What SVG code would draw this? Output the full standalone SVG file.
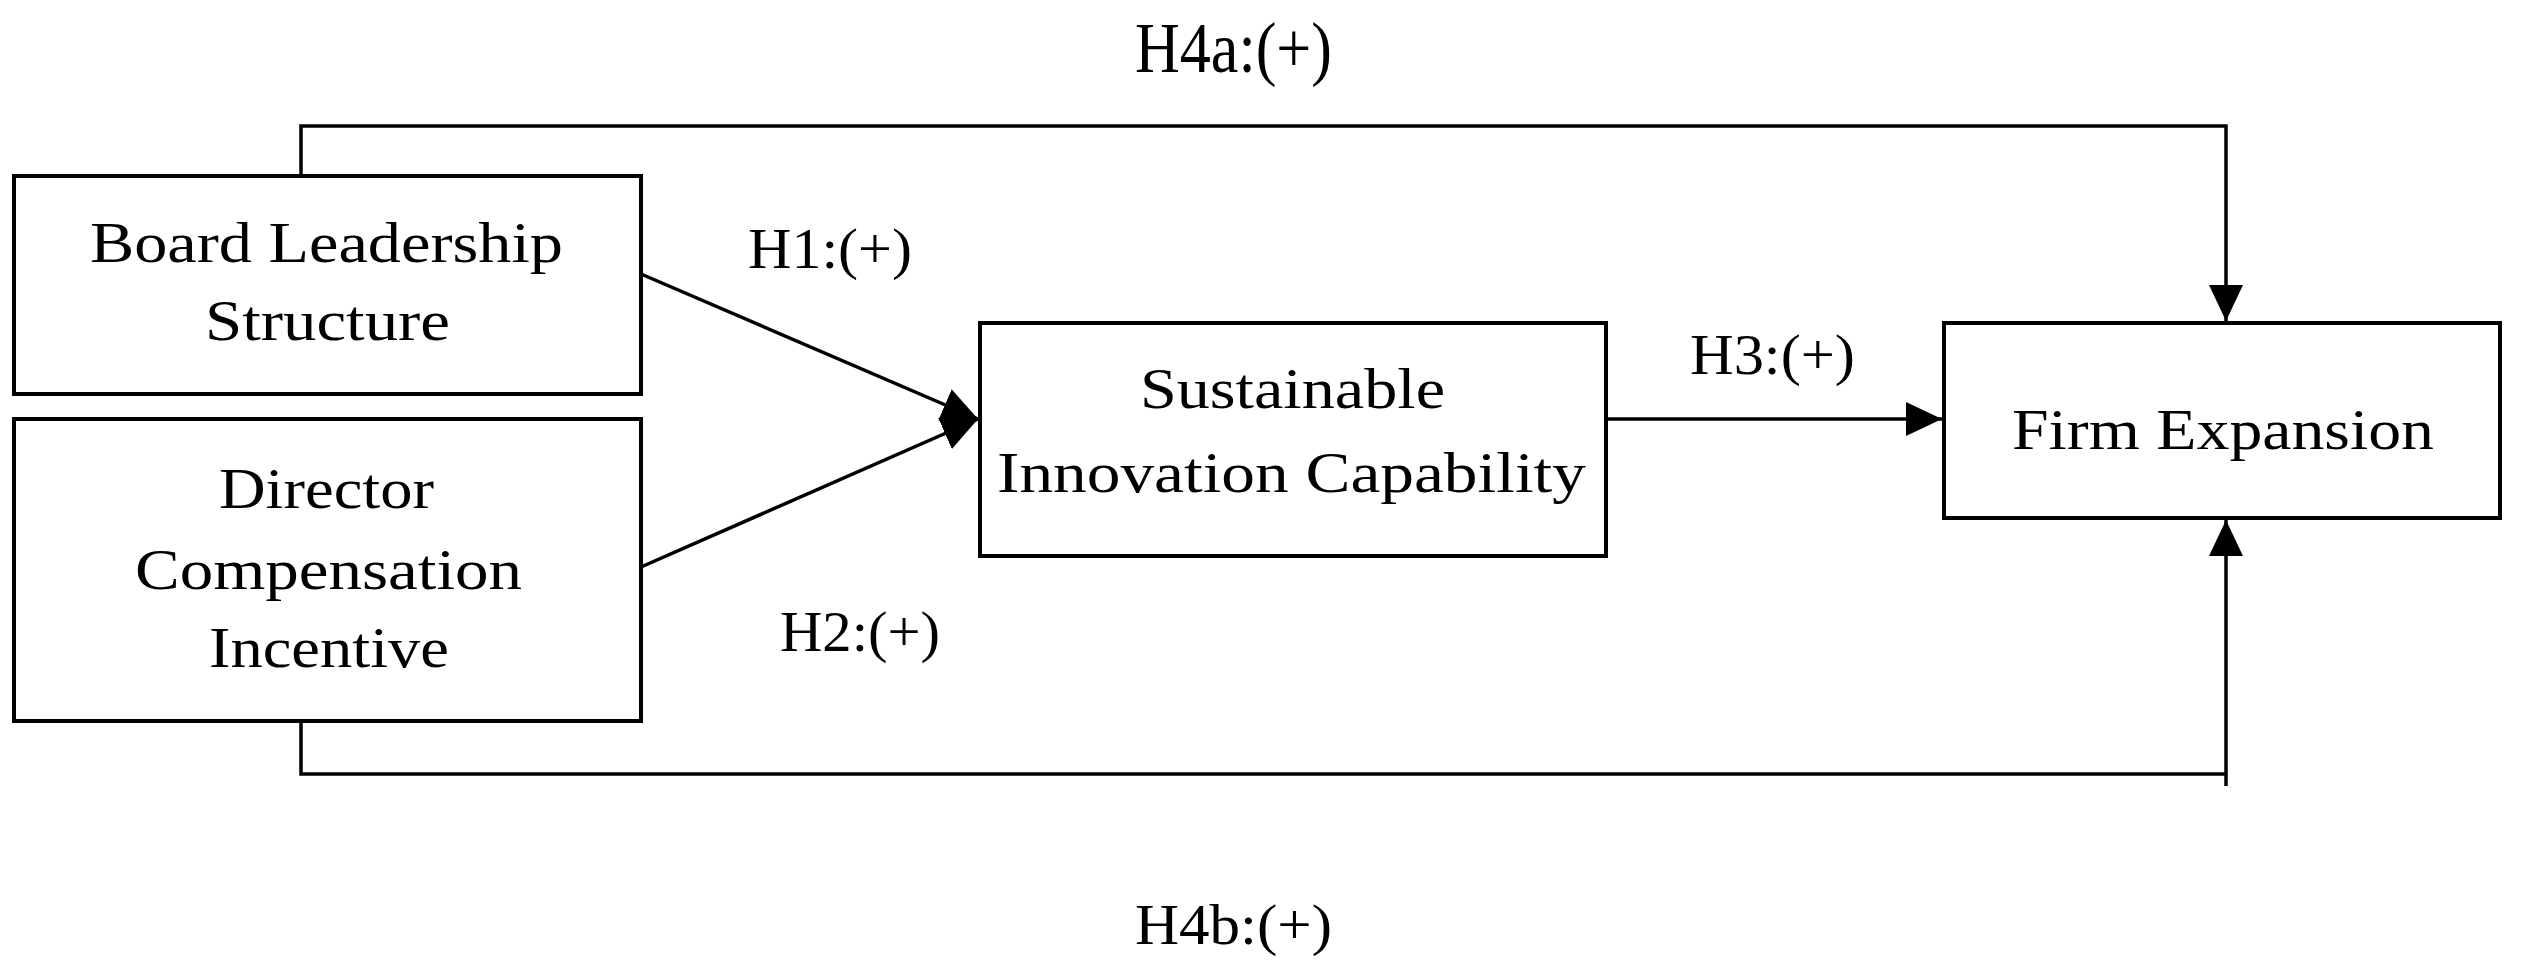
<svg xmlns="http://www.w3.org/2000/svg" width="2521" height="977" viewBox="0 0 2521 977">
<style>
.b{fill:#fff;stroke:#000;stroke-width:4}
.t{font-family:"Liberation Serif",serif;font-size:58px;fill:#000}
.c{stroke:#000;stroke-width:3.5;fill:none}
</style>
<defs>
<marker id="a" markerUnits="userSpaceOnUse" markerWidth="36" markerHeight="34" refX="36" refY="17" orient="auto"><path d="M0,0L36,17L0,34Z" fill="#000"/></marker>
</defs>
<rect width="2521" height="977" fill="#fff"/>
<g id="connectors">
<path class="c" d="M301,176V126H2226V321" marker-end="url(#a)"/>
<path class="c" d="M301,721V774H2226"/>
<path class="c" d="M2226,786V520" marker-end="url(#a)"/>
<path class="c" d="M641,274L978,419" marker-end="url(#a)"/>
<path class="c" d="M641,567L978,419" marker-end="url(#a)"/>
<path class="c" d="M1606,419H1942" marker-end="url(#a)"/>
<text class="t" x="1135" y="72" textLength="197" lengthAdjust="spacingAndGlyphs" style="font-size:72px">H4a:(+)</text>
<text class="t" x="1135" y="944" textLength="197" lengthAdjust="spacingAndGlyphs">H4b:(+)</text>
<text class="t" x="748" y="268" textLength="164" lengthAdjust="spacingAndGlyphs">H1:(+)</text>
<text class="t" x="780" y="651" textLength="160" lengthAdjust="spacingAndGlyphs">H2:(+)</text>
<text class="t" x="1690" y="374" textLength="165" lengthAdjust="spacingAndGlyphs">H3:(+)</text>
</g>
<g id="board">
<rect class="b" x="14" y="176" width="627" height="218"/>
<text class="t" x="90" y="262" textLength="473" lengthAdjust="spacingAndGlyphs">Board Leadership</text>
<text class="t" x="205" y="340" textLength="245" lengthAdjust="spacingAndGlyphs">Structure</text>
</g>
<g id="director">
<rect class="b" x="14" y="419" width="627" height="302"/>
<text class="t" x="219" y="508" textLength="215" lengthAdjust="spacingAndGlyphs">Director</text>
<text class="t" x="135" y="589" textLength="387" lengthAdjust="spacingAndGlyphs">Compensation</text>
<text class="t" x="209" y="667" textLength="240" lengthAdjust="spacingAndGlyphs">Incentive</text>
</g>
<g id="sic">
<rect class="b" x="980" y="323" width="626" height="233"/>
<text class="t" x="1140" y="408" textLength="305" lengthAdjust="spacingAndGlyphs">Sustainable</text>
<text class="t" x="997" y="492" textLength="589" lengthAdjust="spacingAndGlyphs">Innovation Capability</text>
</g>
<g id="firm">
<rect class="b" x="1944" y="323" width="556" height="195"/>
<text class="t" x="2012" y="449" textLength="422" lengthAdjust="spacingAndGlyphs">Firm Expansion</text>
</g>
</svg>
